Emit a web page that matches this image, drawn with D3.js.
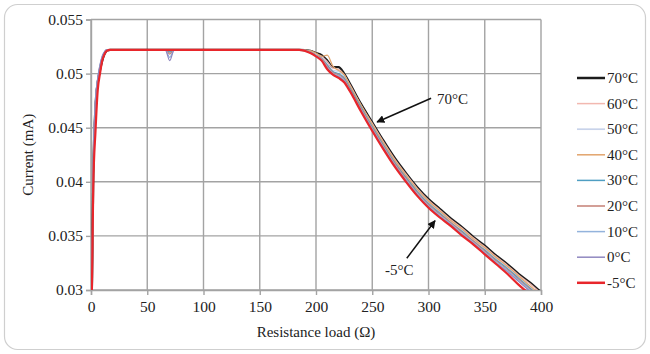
<!DOCTYPE html>
<html><head><meta charset="utf-8">
<script src="https://cdn.jsdelivr.net/npm/d3@7"></script>
<style>html,body{margin:0;padding:0;background:#fff;}svg{display:block;}</style>
</head><body>
<svg id="chart" width="650" height="354"></svg>
<script>
// ---- data ----
const resistance = [0.5, 1, 2, 4, 6, 8, 10, 12, 14, 17, 66, 70, 74, 185, 195, 200, 205, 210, 215, 220, 225, 230, 240, 250, 260, 270, 280, 290, 300, 310, 320, 330, 340, 350, 360, 370, 380, 390, 400];
const series70 = [0.0285, 0.0312, 0.0405, 0.0470, 0.0492, 0.0503, 0.0512, 0.0518, 0.0521, 0.0522, 0.0522, 0.0522, 0.0522, 0.0522, 0.0521, 0.0519, 0.0517, 0.0512, 0.0506, 0.0506, 0.0500, 0.0491, 0.0472, 0.0455, 0.0438, 0.0422, 0.0408, 0.0395, 0.0384, 0.0375, 0.0366, 0.0358, 0.0349, 0.0341, 0.0332, 0.0324, 0.0315, 0.0307, 0.0298];
const series60 = [0.0285, 0.0313, 0.0405, 0.0470, 0.0492, 0.0504, 0.0513, 0.0519, 0.0521, 0.0522, 0.0522, 0.0519, 0.0522, 0.0522, 0.0521, 0.0518, 0.0516, 0.0511, 0.0505, 0.0504, 0.0499, 0.0490, 0.0471, 0.0454, 0.0437, 0.0421, 0.0407, 0.0394, 0.0383, 0.0374, 0.0365, 0.0357, 0.0348, 0.0340, 0.0331, 0.0323, 0.0314, 0.0306, 0.0297];
const series50 = [0.0285, 0.0314, 0.0407, 0.0471, 0.0493, 0.0505, 0.0514, 0.0519, 0.0521, 0.0522, 0.0522, 0.0520, 0.0522, 0.0522, 0.0520, 0.0518, 0.0515, 0.0509, 0.0503, 0.0502, 0.0497, 0.0488, 0.0470, 0.0452, 0.0435, 0.0419, 0.0405, 0.0392, 0.0381, 0.0372, 0.0363, 0.0355, 0.0346, 0.0338, 0.0329, 0.0321, 0.0312, 0.0303, 0.0294];
const series40 = [0.0285, 0.0314, 0.0408, 0.0472, 0.0494, 0.0505, 0.0514, 0.0519, 0.0521, 0.0522, 0.0522, 0.0520, 0.0522, 0.0522, 0.0521, 0.0519, 0.0516, 0.0517, 0.0507, 0.0503, 0.0499, 0.0489, 0.0471, 0.0453, 0.0436, 0.0420, 0.0406, 0.0393, 0.0382, 0.0373, 0.0364, 0.0356, 0.0347, 0.0339, 0.0330, 0.0322, 0.0313, 0.0304, 0.0295];
const series30 = [0.0285, 0.0315, 0.0410, 0.0473, 0.0494, 0.0506, 0.0515, 0.0520, 0.0522, 0.0522, 0.0522, 0.0520, 0.0522, 0.0522, 0.0520, 0.0517, 0.0514, 0.0508, 0.0502, 0.0500, 0.0496, 0.0487, 0.0469, 0.0451, 0.0434, 0.0418, 0.0404, 0.0391, 0.0380, 0.0371, 0.0362, 0.0354, 0.0345, 0.0337, 0.0328, 0.0320, 0.0311, 0.0302, 0.0293];
const series20 = [0.0285, 0.0316, 0.0411, 0.0474, 0.0495, 0.0507, 0.0515, 0.0520, 0.0522, 0.0522, 0.0522, 0.0518, 0.0522, 0.0522, 0.0520, 0.0517, 0.0514, 0.0507, 0.0501, 0.0499, 0.0495, 0.0486, 0.0468, 0.0450, 0.0433, 0.0417, 0.0403, 0.0390, 0.0379, 0.0370, 0.0362, 0.0353, 0.0345, 0.0336, 0.0327, 0.0319, 0.0310, 0.0301, 0.0292];
const series10 = [0.0285, 0.0317, 0.0413, 0.0475, 0.0496, 0.0508, 0.0516, 0.0520, 0.0522, 0.0522, 0.0522, 0.0515, 0.0522, 0.0522, 0.0520, 0.0517, 0.0513, 0.0506, 0.0500, 0.0498, 0.0494, 0.0485, 0.0467, 0.0449, 0.0432, 0.0416, 0.0402, 0.0389, 0.0378, 0.0369, 0.0361, 0.0352, 0.0344, 0.0335, 0.0326, 0.0318, 0.0309, 0.0300, 0.0291];
const series0  = [0.0285, 0.0318, 0.0415, 0.0475, 0.0496, 0.0508, 0.0516, 0.0520, 0.0522, 0.0522, 0.0522, 0.0512, 0.0522, 0.0522, 0.0519, 0.0516, 0.0512, 0.0505, 0.0499, 0.0497, 0.0493, 0.0485, 0.0466, 0.0448, 0.0431, 0.0415, 0.0401, 0.0388, 0.0377, 0.0368, 0.0360, 0.0351, 0.0343, 0.0334, 0.0325, 0.0317, 0.0308, 0.0299, 0.0290];
const seriesM5 = [0.0285, 0.0315, 0.0395, 0.0447, 0.0485, 0.0500, 0.0512, 0.0518, 0.0521, 0.0522, 0.0522, 0.0522, 0.0522, 0.0522, 0.0519, 0.0516, 0.0512, 0.0504, 0.0499, 0.0496, 0.0492, 0.0484, 0.0465, 0.0447, 0.0430, 0.0414, 0.0400, 0.0387, 0.0376, 0.0367, 0.0359, 0.0350, 0.0342, 0.0333, 0.0324, 0.0315, 0.0305, 0.0296, 0.0287];

const seriesNames = ["70\u00B0C", "60\u00B0C", "50\u00B0C", "40\u00B0C", "30\u00B0C", "20\u00B0C", "10\u00B0C", "0\u00B0C", "-5\u00B0C"];
const seriesValues = [series70, series60, series50, series40, series30, series20, series10, series0, seriesM5];
const seriesColors = ["#1c1c1c", "#f2b8b0", "#c8d3ea", "#e2a46c", "#4f9ec2", "#c47f74", "#93b3dc", "#9088c0", "#e8262b"];
const seriesWidths = [2.2, 1.2, 1.4, 1.2, 1.2, 1.2, 1.2, 1.2, 2.2];

const xTicks = [0, 50, 100, 150, 200, 250, 300, 350, 400];
const yTicks = [0.03, 0.035, 0.04, 0.045, 0.05, 0.055];
const yTickLabels = ["0.03", "0.035", "0.04", "0.045", "0.05", "0.055"];

// annotations in data coordinates
const annotLabels = ["70\u00B0C", "-5\u00B0C"];
const annotText = [[307.6, 0.04717], [261.4, 0.03138]];
const annotFrom = [[302.3, 0.04772], [280.7, 0.03293]];
const annotTo = [[254.3, 0.04553], [305.8, 0.0364]];

// ---- drawing ----
const svg = d3.select("#chart");
const font = "'Liberation Serif','Times New Roman',serif";
const L = 91, R = 541, T = 19.5, B = 290;
const x = d3.scaleLinear().domain([0, 400]).range([L, R]);
const y = d3.scaleLinear().domain([0.03, 0.055]).range([B, T]);

svg.append("rect").attr("x", 4.5).attr("y", 4.5).attr("width", 641).attr("height", 345)
  .attr("rx", 13).attr("fill", "#fff").attr("stroke", "#cfcfcf").attr("stroke-width", 1.2);

const defs = svg.append("defs");
defs.append("clipPath").attr("id", "clip").append("rect")
  .attr("x", L).attr("y", T - 2).attr("width", R - L + 2).attr("height", B - T + 2);
defs.append("marker").attr("id", "arrow").attr("viewBox", "0 0 10 10")
  .attr("refX", 9).attr("refY", 5).attr("markerWidth", 8).attr("markerHeight", 8)
  .attr("markerUnits", "userSpaceOnUse").attr("orient", "auto")
  .append("path").attr("d", "M0,0 L10,5 L0,10 Z").attr("fill", "#111");

const gridColor = "#a3a3a3";
svg.append("g").selectAll("line").data(xTicks).join("line")
  .attr("x1", d => x(d)).attr("x2", d => x(d)).attr("y1", T).attr("y2", B)
  .attr("stroke", gridColor).attr("stroke-width", 1.4);
svg.append("g").selectAll("line").data(yTicks).join("line")
  .attr("x1", L).attr("x2", R).attr("y1", d => y(d)).attr("y2", d => y(d))
  .attr("stroke", gridColor).attr("stroke-width", 1.4);

const xAxis = svg.append("g").attr("transform", `translate(0,${B})`)
  .call(d3.axisBottom(x).tickValues(xTicks).tickSize(5).tickPadding(6).tickFormat(d3.format("d")));
const yAxis = svg.append("g").attr("transform", `translate(${L},0)`)
  .call(d3.axisLeft(y).tickValues(yTicks).tickSize(5).tickPadding(3).tickFormat((d, i) => yTickLabels[i]));
[xAxis, yAxis].forEach(g => {
  g.select(".domain").attr("stroke", gridColor).attr("stroke-width", 1.4);
  g.selectAll(".tick line").attr("stroke", gridColor).attr("stroke-width", 1.4);
  g.selectAll("text").attr("font-family", font).attr("font-size", 15.5).attr("fill", "#222");
});

svg.append("text").attr("x", (L + R) / 2).attr("y", 336.5).attr("text-anchor", "middle")
  .attr("font-family", font).attr("font-size", 15).attr("fill", "#222").text("Resistance load (\u03A9)");
svg.append("text").attr("transform", `translate(33,${(T + B) / 2}) rotate(-90)`).attr("text-anchor", "middle")
  .attr("font-family", font).attr("font-size", 15).attr("fill", "#222").text("Current (mA)");

const line = d3.line().x(d => x(d[0])).y(d => y(d[1])).curve(d3.curveMonotoneX);
const gLines = svg.append("g").attr("clip-path", "url(#clip)");
seriesValues.forEach((vals, i) => {
  gLines.append("path").datum(resistance.map((r, j) => [r, vals[j]]))
    .attr("d", line).attr("fill", "none").attr("stroke", seriesColors[i])
    .attr("stroke-width", seriesWidths[i]).attr("stroke-linejoin", "round");
});

annotLabels.forEach((lab, i) => {
  svg.append("line").attr("x1", x(annotFrom[i][0])).attr("y1", y(annotFrom[i][1]))
    .attr("x2", x(annotTo[i][0])).attr("y2", y(annotTo[i][1]))
    .attr("stroke", "#111").attr("stroke-width", 1.5).attr("marker-end", "url(#arrow)");
  svg.append("text").attr("x", x(annotText[i][0])).attr("y", y(annotText[i][1]))
    .attr("font-family", font).attr("font-size", 15).attr("fill", "#222").text(lab);
});

const leg = svg.append("g");
seriesNames.forEach((n, i) => {
  const yy = 78 + i * 25.6;
  leg.append("line").attr("x1", 577).attr("x2", 605).attr("y1", yy).attr("y2", yy)
    .attr("stroke", seriesColors[i]).attr("stroke-width", seriesWidths[i] + 0.3);
  leg.append("text").attr("x", 607).attr("y", yy + 5).attr("font-family", font)
    .attr("font-size", 15).attr("fill", "#222").text(n);
});
</script>
</body></html>
